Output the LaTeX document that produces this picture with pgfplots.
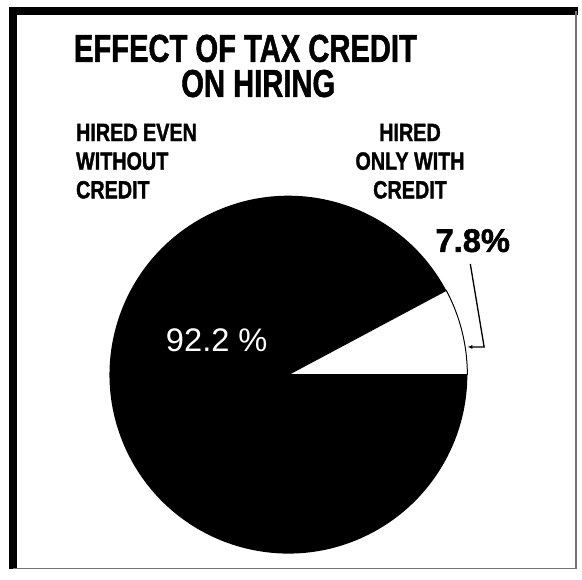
\documentclass[border=0pt]{standalone}
\usepackage{graphicx}
\usepackage{pgfplots}
\pgfplotsset{compat=1.18}
\usepackage{pgfplotstable}
\usepackage{fontspec}
\setmainfont{Liberation Sans}[BoldFeatures={FakeBold=1.6}]
\usetikzlibrary{arrows.meta}

% shares of hires, percent
\pgfplotstableread{
share group
92.2  without
7.8   with
}\piedata

\begin{document}
\pgfplotstablegetelem{0}{share}\of\piedata
\let\sharewithout\pgfplotsretval
\pgfplotstablegetelem{1}{share}\of\piedata
\let\sharewith\pgfplotsretval
\pgfmathsetmacro{\cut}{3.6*\sharewith}

\begin{tikzpicture}
\begin{axis}[
    scale only axis,
    width=582pt, height=576pt,
    xmin=0, xmax=582, ymin=0, ymax=576,
    y dir=reverse,
    hide axis,
    clip=false,
]
\path (axis cs:0,0) rectangle (axis cs:582,576);

% frame
\draw[line width=8pt] (axis cs:10,576) -- (axis cs:10,11) -- (axis cs:582,11);
\draw[line width=1.2pt, black!55] (axis cs:580,11) -- (axis cs:580,575) -- (axis cs:10,575);

% pie
\fill[black] (axis cs:289,379) -- ++(\cut:181pt)
    arc[start angle=\cut, end angle=360, radius=181pt] -- cycle;
\draw[line width=1pt, fill=white] (axis cs:289,379) -- ++(0:181pt)
    arc[start angle=0, end angle=\cut, radius=181pt] -- cycle;

% title
\node[font=\bfseries\fontsize{29.5}{29.5}\selectfont, inner sep=0]
    at (axis cs:245.5,49) {\scalebox{1}[1.33]{EFFECT OF TAX CREDIT}};
\node[font=\bfseries\fontsize{29.5}{29.5}\selectfont, inner sep=0]
    at (axis cs:258.5,84.5) {\scalebox{1}[1.33]{ON HIRING}};

% group labels
\node[anchor=west, font=\bfseries\fontsize{20}{20}\selectfont, inner sep=0]
    at (axis cs:74,134) {\scalebox{1}[1.26]{HIRED EVEN}};
\node[anchor=west, font=\bfseries\fontsize{20}{20}\selectfont, inner sep=0]
    at (axis cs:74,163) {\scalebox{1}[1.26]{WITHOUT}};
\node[anchor=west, font=\bfseries\fontsize{20}{20}\selectfont, inner sep=0]
    at (axis cs:74,192) {\scalebox{1}[1.26]{CREDIT}};

\node[font=\bfseries\fontsize{20}{20}\selectfont, inner sep=0]
    at (axis cs:412,134) {\scalebox{1}[1.26]{HIRED}};
\node[font=\bfseries\fontsize{20}{20}\selectfont, inner sep=0]
    at (axis cs:412,163) {\scalebox{1}[1.26]{ONLY WITH}};
\node[font=\bfseries\fontsize{20}{20}\selectfont, inner sep=0]
    at (axis cs:412,192) {\scalebox{1}[1.26]{CREDIT}};

% values
\node[font=\bfseries\fontsize{33}{33}\selectfont, inner sep=0]
    at (axis cs:475.5,243.5) {\sharewith\%};
\node[font=\fontsize{33}{33}\selectfont, text=white, inner sep=0]
    at (axis cs:216.5,344.5) {\sharewithout\ \%};

% leader
\draw[line width=1.3pt, -{Latex[length=5pt,width=4pt]}]
    (axis cs:473,267) -- (axis cs:487,351) -- (axis cs:470,351);
\end{axis}
\end{tikzpicture}
\end{document}
